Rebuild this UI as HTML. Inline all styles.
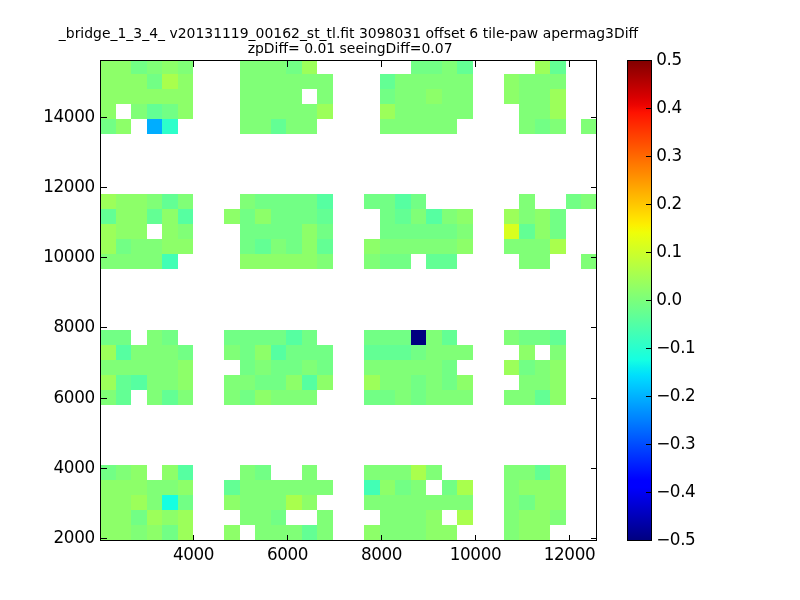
<!DOCTYPE html>
<html><head><meta charset="utf-8"><title>tile-paw apermag3Diff</title>
<style>
html,body{margin:0;padding:0;background:#fff;}
body{width:800px;height:600px;position:relative;overflow:hidden;font-family:"DejaVu Sans","Liberation Sans",sans-serif;color:#000;}
svg{position:absolute;left:0;top:0;}
.t{position:absolute;white-space:nowrap;line-height:1;}
.title{font-size:13.94px;left:0;width:697px;text-align:center;}
.yl{font-size:16.8px;right:705.3px;text-align:right;letter-spacing:-0.4px;}
.xl{font-size:16.8px;width:100px;text-align:center;letter-spacing:-0.4px;}
.cl{font-size:16.8px;left:656.2px;letter-spacing:-0.4px;}
</style></head><body>
<svg width="800" height="600" viewBox="0 0 800 600">
<defs><linearGradient id="jet" x1="0" y1="0" x2="0" y2="1">
<stop offset="0.0000" stop-color="#800000"/><stop offset="0.0156" stop-color="#920000"/><stop offset="0.0312" stop-color="#a40000"/><stop offset="0.0469" stop-color="#b60000"/><stop offset="0.0625" stop-color="#c80000"/><stop offset="0.0781" stop-color="#da0000"/><stop offset="0.0938" stop-color="#ec0400"/><stop offset="0.1094" stop-color="#fe1200"/><stop offset="0.1250" stop-color="#ff2100"/><stop offset="0.1406" stop-color="#ff3000"/><stop offset="0.1562" stop-color="#ff3f00"/><stop offset="0.1719" stop-color="#ff4d00"/><stop offset="0.1875" stop-color="#ff5c00"/><stop offset="0.2031" stop-color="#ff6b00"/><stop offset="0.2188" stop-color="#ff7a00"/><stop offset="0.2344" stop-color="#ff8800"/><stop offset="0.2500" stop-color="#ff9700"/><stop offset="0.2656" stop-color="#ffa600"/><stop offset="0.2812" stop-color="#ffb500"/><stop offset="0.2969" stop-color="#ffc300"/><stop offset="0.3125" stop-color="#ffd200"/><stop offset="0.3281" stop-color="#ffe100"/><stop offset="0.3438" stop-color="#fcf000"/><stop offset="0.3594" stop-color="#effe08"/><stop offset="0.3750" stop-color="#e2ff15"/><stop offset="0.3906" stop-color="#d5ff21"/><stop offset="0.4062" stop-color="#c9ff2e"/><stop offset="0.4219" stop-color="#bcff3b"/><stop offset="0.4375" stop-color="#afff48"/><stop offset="0.4531" stop-color="#a2ff55"/><stop offset="0.4688" stop-color="#95ff62"/><stop offset="0.4844" stop-color="#88ff6f"/><stop offset="0.5000" stop-color="#7bff7b"/><stop offset="0.5156" stop-color="#6fff88"/><stop offset="0.5312" stop-color="#62ff95"/><stop offset="0.5469" stop-color="#55ffa2"/><stop offset="0.5625" stop-color="#48ffaf"/><stop offset="0.5781" stop-color="#3bffbc"/><stop offset="0.5938" stop-color="#2effc9"/><stop offset="0.6094" stop-color="#21ffd5"/><stop offset="0.6250" stop-color="#15ffe2"/><stop offset="0.6406" stop-color="#08efef"/><stop offset="0.6562" stop-color="#00dffc"/><stop offset="0.6719" stop-color="#00cfff"/><stop offset="0.6875" stop-color="#00bfff"/><stop offset="0.7031" stop-color="#00afff"/><stop offset="0.7188" stop-color="#009fff"/><stop offset="0.7344" stop-color="#008fff"/><stop offset="0.7500" stop-color="#0080ff"/><stop offset="0.7656" stop-color="#0070ff"/><stop offset="0.7812" stop-color="#0060ff"/><stop offset="0.7969" stop-color="#0050ff"/><stop offset="0.8125" stop-color="#0040ff"/><stop offset="0.8281" stop-color="#0030ff"/><stop offset="0.8438" stop-color="#0020ff"/><stop offset="0.8594" stop-color="#0010ff"/><stop offset="0.8750" stop-color="#0000ff"/><stop offset="0.8906" stop-color="#0000fe"/><stop offset="0.9062" stop-color="#0000ec"/><stop offset="0.9219" stop-color="#0000da"/><stop offset="0.9375" stop-color="#0000c8"/><stop offset="0.9531" stop-color="#0000b6"/><stop offset="0.9688" stop-color="#0000a4"/><stop offset="0.9844" stop-color="#000092"/><stop offset="1.0000" stop-color="#000080"/>
</linearGradient></defs>
<g shape-rendering="crispEdges">
<rect x="101" y="61" width="30" height="13" fill="#8dff69"/>
<rect x="131" y="61" width="16" height="13" fill="#72ff85"/>
<rect x="147" y="61" width="15" height="13" fill="#80ff77"/>
<rect x="162" y="61" width="16" height="13" fill="#8dff69"/>
<rect x="178" y="61" width="15" height="13" fill="#80ff77"/>
<rect x="240" y="61" width="46" height="13" fill="#80ff77"/>
<rect x="286" y="61" width="16" height="13" fill="#72ff85"/>
<rect x="302" y="61" width="15" height="13" fill="#9cff5a"/>
<rect x="411" y="61" width="31" height="13" fill="#72ff85"/>
<rect x="442" y="61" width="15" height="13" fill="#80ff77"/>
<rect x="457" y="61" width="16" height="13" fill="#63ff94"/>
<rect x="535" y="61" width="15" height="13" fill="#9cff5a"/>
<rect x="550" y="61" width="16" height="13" fill="#63ff94"/>
<rect x="101" y="74" width="46" height="15" fill="#8dff69"/>
<rect x="147" y="74" width="15" height="15" fill="#72ff85"/>
<rect x="162" y="74" width="16" height="15" fill="#a9ff4d"/>
<rect x="178" y="74" width="15" height="15" fill="#8dff69"/>
<rect x="240" y="74" width="93" height="15" fill="#80ff77"/>
<rect x="380" y="74" width="15" height="15" fill="#63ff94"/>
<rect x="395" y="74" width="78" height="15" fill="#80ff77"/>
<rect x="504" y="74" width="15" height="15" fill="#8dff69"/>
<rect x="519" y="74" width="47" height="15" fill="#80ff77"/>
<rect x="101" y="89" width="92" height="15" fill="#8dff69"/>
<rect x="240" y="89" width="62" height="15" fill="#80ff77"/>
<rect x="317" y="89" width="16" height="15" fill="#80ff77"/>
<rect x="380" y="89" width="15" height="15" fill="#72ff85"/>
<rect x="395" y="89" width="31" height="15" fill="#80ff77"/>
<rect x="426" y="89" width="16" height="15" fill="#8dff69"/>
<rect x="442" y="89" width="31" height="15" fill="#80ff77"/>
<rect x="504" y="89" width="15" height="15" fill="#8dff69"/>
<rect x="519" y="89" width="31" height="15" fill="#80ff77"/>
<rect x="550" y="89" width="16" height="15" fill="#9cff5a"/>
<rect x="101" y="104" width="15" height="15" fill="#8dff69"/>
<rect x="131" y="104" width="16" height="15" fill="#80ff77"/>
<rect x="147" y="104" width="15" height="15" fill="#63ff94"/>
<rect x="162" y="104" width="16" height="15" fill="#72ff85"/>
<rect x="178" y="104" width="15" height="15" fill="#8dff69"/>
<rect x="240" y="104" width="77" height="15" fill="#80ff77"/>
<rect x="317" y="104" width="16" height="15" fill="#9cff5a"/>
<rect x="380" y="104" width="15" height="15" fill="#9cff5a"/>
<rect x="395" y="104" width="78" height="15" fill="#80ff77"/>
<rect x="519" y="104" width="31" height="15" fill="#80ff77"/>
<rect x="550" y="104" width="16" height="15" fill="#9cff5a"/>
<rect x="101" y="119" width="15" height="15" fill="#72ff85"/>
<rect x="116" y="119" width="15" height="15" fill="#8dff69"/>
<rect x="147" y="119" width="15" height="15" fill="#00adff"/>
<rect x="162" y="119" width="16" height="15" fill="#2dffca"/>
<rect x="240" y="119" width="31" height="15" fill="#80ff77"/>
<rect x="271" y="119" width="15" height="15" fill="#63ff94"/>
<rect x="286" y="119" width="31" height="15" fill="#80ff77"/>
<rect x="380" y="119" width="77" height="15" fill="#80ff77"/>
<rect x="519" y="119" width="16" height="15" fill="#80ff77"/>
<rect x="535" y="119" width="15" height="15" fill="#72ff85"/>
<rect x="550" y="119" width="16" height="15" fill="#80ff77"/>
<rect x="581" y="119" width="15" height="15" fill="#80ff77"/>
<rect x="101" y="194" width="15" height="15" fill="#9cff5a"/>
<rect x="116" y="194" width="31" height="15" fill="#8dff69"/>
<rect x="147" y="194" width="15" height="15" fill="#80ff77"/>
<rect x="162" y="194" width="16" height="15" fill="#63ff94"/>
<rect x="178" y="194" width="15" height="15" fill="#80ff77"/>
<rect x="240" y="194" width="15" height="15" fill="#80ff77"/>
<rect x="255" y="194" width="62" height="15" fill="#72ff85"/>
<rect x="317" y="194" width="16" height="15" fill="#56ffa1"/>
<rect x="364" y="194" width="31" height="15" fill="#72ff85"/>
<rect x="395" y="194" width="16" height="15" fill="#56ffa1"/>
<rect x="411" y="194" width="15" height="15" fill="#72ff85"/>
<rect x="519" y="194" width="16" height="15" fill="#80ff77"/>
<rect x="566" y="194" width="15" height="15" fill="#72ff85"/>
<rect x="581" y="194" width="15" height="15" fill="#80ff77"/>
<rect x="101" y="209" width="15" height="15" fill="#63ff94"/>
<rect x="116" y="209" width="31" height="15" fill="#8dff69"/>
<rect x="147" y="209" width="15" height="15" fill="#63ff94"/>
<rect x="162" y="209" width="16" height="15" fill="#8dff69"/>
<rect x="178" y="209" width="15" height="15" fill="#56ffa1"/>
<rect x="224" y="209" width="16" height="15" fill="#8dff69"/>
<rect x="240" y="209" width="15" height="15" fill="#72ff85"/>
<rect x="255" y="209" width="16" height="15" fill="#8dff69"/>
<rect x="271" y="209" width="46" height="15" fill="#72ff85"/>
<rect x="317" y="209" width="16" height="15" fill="#63ff94"/>
<rect x="380" y="209" width="15" height="15" fill="#72ff85"/>
<rect x="395" y="209" width="16" height="15" fill="#63ff94"/>
<rect x="411" y="209" width="15" height="15" fill="#80ff77"/>
<rect x="426" y="209" width="16" height="15" fill="#56ffa1"/>
<rect x="442" y="209" width="15" height="15" fill="#80ff77"/>
<rect x="457" y="209" width="16" height="15" fill="#8dff69"/>
<rect x="504" y="209" width="15" height="15" fill="#9cff5a"/>
<rect x="519" y="209" width="16" height="15" fill="#80ff77"/>
<rect x="535" y="209" width="15" height="15" fill="#8dff69"/>
<rect x="550" y="209" width="16" height="15" fill="#72ff85"/>
<rect x="101" y="224" width="15" height="15" fill="#9cff5a"/>
<rect x="116" y="224" width="31" height="15" fill="#8dff69"/>
<rect x="162" y="224" width="16" height="15" fill="#8dff69"/>
<rect x="178" y="224" width="15" height="15" fill="#80ff77"/>
<rect x="240" y="224" width="62" height="15" fill="#72ff85"/>
<rect x="302" y="224" width="15" height="15" fill="#8dff69"/>
<rect x="317" y="224" width="16" height="15" fill="#72ff85"/>
<rect x="380" y="224" width="77" height="15" fill="#72ff85"/>
<rect x="457" y="224" width="16" height="15" fill="#80ff77"/>
<rect x="504" y="224" width="15" height="15" fill="#d8ff1f"/>
<rect x="519" y="224" width="16" height="15" fill="#63ff94"/>
<rect x="535" y="224" width="15" height="15" fill="#8dff69"/>
<rect x="550" y="224" width="16" height="15" fill="#72ff85"/>
<rect x="101" y="239" width="15" height="15" fill="#9cff5a"/>
<rect x="116" y="239" width="15" height="15" fill="#72ff85"/>
<rect x="131" y="239" width="31" height="15" fill="#80ff77"/>
<rect x="162" y="239" width="31" height="15" fill="#8dff69"/>
<rect x="240" y="239" width="15" height="15" fill="#72ff85"/>
<rect x="255" y="239" width="16" height="15" fill="#63ff94"/>
<rect x="271" y="239" width="15" height="15" fill="#80ff77"/>
<rect x="286" y="239" width="16" height="15" fill="#72ff85"/>
<rect x="302" y="239" width="15" height="15" fill="#8dff69"/>
<rect x="317" y="239" width="16" height="15" fill="#63ff94"/>
<rect x="364" y="239" width="16" height="15" fill="#8dff69"/>
<rect x="380" y="239" width="77" height="15" fill="#80ff77"/>
<rect x="457" y="239" width="16" height="15" fill="#8dff69"/>
<rect x="504" y="239" width="46" height="15" fill="#80ff77"/>
<rect x="550" y="239" width="16" height="15" fill="#a9ff4d"/>
<rect x="101" y="254" width="61" height="15" fill="#80ff77"/>
<rect x="162" y="254" width="16" height="15" fill="#42ffb5"/>
<rect x="240" y="254" width="77" height="15" fill="#8dff69"/>
<rect x="317" y="254" width="16" height="15" fill="#80ff77"/>
<rect x="364" y="254" width="16" height="15" fill="#80ff77"/>
<rect x="380" y="254" width="31" height="15" fill="#72ff85"/>
<rect x="426" y="254" width="31" height="15" fill="#63ff94"/>
<rect x="519" y="254" width="31" height="15" fill="#80ff77"/>
<rect x="581" y="254" width="15" height="15" fill="#80ff77"/>
<rect x="101" y="330" width="30" height="15" fill="#72ff85"/>
<rect x="147" y="330" width="15" height="15" fill="#80ff77"/>
<rect x="162" y="330" width="16" height="15" fill="#72ff85"/>
<rect x="224" y="330" width="62" height="15" fill="#72ff85"/>
<rect x="286" y="330" width="16" height="15" fill="#56ffa1"/>
<rect x="302" y="330" width="15" height="15" fill="#72ff85"/>
<rect x="364" y="330" width="47" height="15" fill="#72ff85"/>
<rect x="411" y="330" width="15" height="15" fill="#000080"/>
<rect x="426" y="330" width="16" height="15" fill="#80ff77"/>
<rect x="442" y="330" width="15" height="15" fill="#63ff94"/>
<rect x="504" y="330" width="15" height="15" fill="#80ff77"/>
<rect x="519" y="330" width="31" height="15" fill="#72ff85"/>
<rect x="550" y="330" width="16" height="15" fill="#63ff94"/>
<rect x="101" y="345" width="15" height="15" fill="#9cff5a"/>
<rect x="116" y="345" width="15" height="15" fill="#56ffa1"/>
<rect x="131" y="345" width="47" height="15" fill="#80ff77"/>
<rect x="178" y="345" width="15" height="15" fill="#72ff85"/>
<rect x="224" y="345" width="16" height="15" fill="#80ff77"/>
<rect x="240" y="345" width="15" height="15" fill="#72ff85"/>
<rect x="255" y="345" width="16" height="15" fill="#8dff69"/>
<rect x="271" y="345" width="15" height="15" fill="#56ffa1"/>
<rect x="286" y="345" width="47" height="15" fill="#72ff85"/>
<rect x="364" y="345" width="47" height="15" fill="#63ff94"/>
<rect x="411" y="345" width="15" height="15" fill="#72ff85"/>
<rect x="426" y="345" width="47" height="15" fill="#80ff77"/>
<rect x="519" y="345" width="16" height="15" fill="#8dff69"/>
<rect x="550" y="345" width="16" height="15" fill="#80ff77"/>
<rect x="101" y="360" width="77" height="15" fill="#80ff77"/>
<rect x="178" y="360" width="15" height="15" fill="#8dff69"/>
<rect x="240" y="360" width="15" height="15" fill="#72ff85"/>
<rect x="255" y="360" width="16" height="15" fill="#80ff77"/>
<rect x="271" y="360" width="31" height="15" fill="#72ff85"/>
<rect x="302" y="360" width="15" height="15" fill="#80ff77"/>
<rect x="317" y="360" width="16" height="15" fill="#72ff85"/>
<rect x="364" y="360" width="78" height="15" fill="#80ff77"/>
<rect x="442" y="360" width="15" height="15" fill="#72ff85"/>
<rect x="504" y="360" width="15" height="15" fill="#9cff5a"/>
<rect x="519" y="360" width="16" height="15" fill="#72ff85"/>
<rect x="535" y="360" width="15" height="15" fill="#80ff77"/>
<rect x="550" y="360" width="16" height="15" fill="#8dff69"/>
<rect x="101" y="375" width="15" height="15" fill="#9cff5a"/>
<rect x="116" y="375" width="15" height="15" fill="#63ff94"/>
<rect x="131" y="375" width="16" height="15" fill="#56ffa1"/>
<rect x="147" y="375" width="31" height="15" fill="#80ff77"/>
<rect x="178" y="375" width="15" height="15" fill="#8dff69"/>
<rect x="224" y="375" width="31" height="15" fill="#80ff77"/>
<rect x="255" y="375" width="31" height="15" fill="#72ff85"/>
<rect x="286" y="375" width="16" height="15" fill="#8dff69"/>
<rect x="302" y="375" width="15" height="15" fill="#56ffa1"/>
<rect x="317" y="375" width="16" height="15" fill="#8dff69"/>
<rect x="364" y="375" width="16" height="15" fill="#9cff5a"/>
<rect x="380" y="375" width="31" height="15" fill="#80ff77"/>
<rect x="411" y="375" width="15" height="15" fill="#72ff85"/>
<rect x="426" y="375" width="16" height="15" fill="#80ff77"/>
<rect x="442" y="375" width="15" height="15" fill="#72ff85"/>
<rect x="457" y="375" width="16" height="15" fill="#8dff69"/>
<rect x="519" y="375" width="31" height="15" fill="#80ff77"/>
<rect x="550" y="375" width="16" height="15" fill="#8dff69"/>
<rect x="101" y="390" width="15" height="15" fill="#80ff77"/>
<rect x="116" y="390" width="15" height="15" fill="#63ff94"/>
<rect x="147" y="390" width="15" height="15" fill="#80ff77"/>
<rect x="162" y="390" width="16" height="15" fill="#63ff94"/>
<rect x="178" y="390" width="15" height="15" fill="#80ff77"/>
<rect x="224" y="390" width="16" height="15" fill="#80ff77"/>
<rect x="240" y="390" width="15" height="15" fill="#72ff85"/>
<rect x="255" y="390" width="16" height="15" fill="#8dff69"/>
<rect x="271" y="390" width="46" height="15" fill="#80ff77"/>
<rect x="364" y="390" width="31" height="15" fill="#72ff85"/>
<rect x="395" y="390" width="16" height="15" fill="#80ff77"/>
<rect x="411" y="390" width="15" height="15" fill="#72ff85"/>
<rect x="426" y="390" width="47" height="15" fill="#80ff77"/>
<rect x="504" y="390" width="31" height="15" fill="#80ff77"/>
<rect x="535" y="390" width="15" height="15" fill="#63ff94"/>
<rect x="550" y="390" width="16" height="15" fill="#8dff69"/>
<rect x="101" y="465" width="15" height="15" fill="#72ff85"/>
<rect x="116" y="465" width="15" height="15" fill="#80ff77"/>
<rect x="131" y="465" width="16" height="15" fill="#8dff69"/>
<rect x="162" y="465" width="16" height="15" fill="#8dff69"/>
<rect x="178" y="465" width="15" height="15" fill="#56ffa1"/>
<rect x="240" y="465" width="15" height="15" fill="#80ff77"/>
<rect x="255" y="465" width="16" height="15" fill="#72ff85"/>
<rect x="302" y="465" width="15" height="15" fill="#80ff77"/>
<rect x="364" y="465" width="47" height="15" fill="#80ff77"/>
<rect x="411" y="465" width="15" height="15" fill="#a9ff4d"/>
<rect x="426" y="465" width="16" height="15" fill="#80ff77"/>
<rect x="504" y="465" width="31" height="15" fill="#80ff77"/>
<rect x="535" y="465" width="15" height="15" fill="#63ff94"/>
<rect x="550" y="465" width="16" height="15" fill="#8dff69"/>
<rect x="101" y="480" width="46" height="15" fill="#8dff69"/>
<rect x="147" y="480" width="31" height="15" fill="#80ff77"/>
<rect x="178" y="480" width="15" height="15" fill="#8dff69"/>
<rect x="224" y="480" width="16" height="15" fill="#63ff94"/>
<rect x="240" y="480" width="93" height="15" fill="#80ff77"/>
<rect x="364" y="480" width="16" height="15" fill="#42ffb5"/>
<rect x="380" y="480" width="15" height="15" fill="#8dff69"/>
<rect x="395" y="480" width="16" height="15" fill="#72ff85"/>
<rect x="411" y="480" width="15" height="15" fill="#80ff77"/>
<rect x="442" y="480" width="15" height="15" fill="#72ff85"/>
<rect x="457" y="480" width="16" height="15" fill="#a9ff4d"/>
<rect x="504" y="480" width="15" height="15" fill="#80ff77"/>
<rect x="519" y="480" width="47" height="15" fill="#8dff69"/>
<rect x="101" y="495" width="30" height="15" fill="#8dff69"/>
<rect x="131" y="495" width="16" height="15" fill="#9cff5a"/>
<rect x="147" y="495" width="15" height="15" fill="#80ff77"/>
<rect x="162" y="495" width="16" height="15" fill="#15ffe2"/>
<rect x="178" y="495" width="15" height="15" fill="#72ff85"/>
<rect x="224" y="495" width="16" height="15" fill="#8dff69"/>
<rect x="240" y="495" width="46" height="15" fill="#80ff77"/>
<rect x="286" y="495" width="16" height="15" fill="#a9ff4d"/>
<rect x="302" y="495" width="15" height="15" fill="#8dff69"/>
<rect x="364" y="495" width="109" height="15" fill="#80ff77"/>
<rect x="504" y="495" width="15" height="15" fill="#80ff77"/>
<rect x="519" y="495" width="16" height="15" fill="#72ff85"/>
<rect x="535" y="495" width="31" height="15" fill="#8dff69"/>
<rect x="101" y="510" width="30" height="15" fill="#8dff69"/>
<rect x="131" y="510" width="16" height="15" fill="#72ff85"/>
<rect x="147" y="510" width="15" height="15" fill="#9cff5a"/>
<rect x="162" y="510" width="16" height="15" fill="#8dff69"/>
<rect x="178" y="510" width="15" height="15" fill="#9cff5a"/>
<rect x="240" y="510" width="31" height="15" fill="#80ff77"/>
<rect x="271" y="510" width="15" height="15" fill="#72ff85"/>
<rect x="317" y="510" width="16" height="15" fill="#80ff77"/>
<rect x="380" y="510" width="46" height="15" fill="#80ff77"/>
<rect x="426" y="510" width="16" height="15" fill="#8dff69"/>
<rect x="457" y="510" width="16" height="15" fill="#a9ff4d"/>
<rect x="504" y="510" width="15" height="15" fill="#80ff77"/>
<rect x="519" y="510" width="31" height="15" fill="#8dff69"/>
<rect x="550" y="510" width="16" height="15" fill="#80ff77"/>
<rect x="101" y="525" width="30" height="15" fill="#8dff69"/>
<rect x="131" y="525" width="16" height="15" fill="#80ff77"/>
<rect x="147" y="525" width="15" height="15" fill="#8dff69"/>
<rect x="162" y="525" width="16" height="15" fill="#72ff85"/>
<rect x="178" y="525" width="15" height="15" fill="#9cff5a"/>
<rect x="224" y="525" width="16" height="15" fill="#8dff69"/>
<rect x="255" y="525" width="47" height="15" fill="#80ff77"/>
<rect x="302" y="525" width="15" height="15" fill="#63ff94"/>
<rect x="317" y="525" width="16" height="15" fill="#80ff77"/>
<rect x="364" y="525" width="16" height="15" fill="#8dff69"/>
<rect x="380" y="525" width="46" height="15" fill="#80ff77"/>
<rect x="426" y="525" width="31" height="15" fill="#8dff69"/>
<rect x="504" y="525" width="15" height="15" fill="#80ff77"/>
<rect x="519" y="525" width="31" height="15" fill="#8dff69"/>
</g>
<rect x="627" y="60" width="24" height="480" fill="url(#jet)"/>
<g fill="#000" shape-rendering="crispEdges">
<rect x="193" y="534.5" width="1" height="5.5"/>
<rect x="193" y="61" width="1" height="5.5"/>
<rect x="287" y="534.5" width="1" height="5.5"/>
<rect x="287" y="61" width="1" height="5.5"/>
<rect x="381" y="534.5" width="1" height="5.5"/>
<rect x="381" y="61" width="1" height="5.5"/>
<rect x="475" y="534.5" width="1" height="5.5"/>
<rect x="475" y="61" width="1" height="5.5"/>
<rect x="569" y="534.5" width="1" height="5.5"/>
<rect x="569" y="61" width="1" height="5.5"/>
<rect x="101" y="538" width="5.5" height="1"/>
<rect x="590.5" y="538" width="5.5" height="1"/>
<rect x="101" y="468" width="5.5" height="1"/>
<rect x="590.5" y="468" width="5.5" height="1"/>
<rect x="101" y="398" width="5.5" height="1"/>
<rect x="590.5" y="398" width="5.5" height="1"/>
<rect x="101" y="327" width="5.5" height="1"/>
<rect x="590.5" y="327" width="5.5" height="1"/>
<rect x="101" y="257" width="5.5" height="1"/>
<rect x="590.5" y="257" width="5.5" height="1"/>
<rect x="101" y="187" width="5.5" height="1"/>
<rect x="590.5" y="187" width="5.5" height="1"/>
<rect x="101" y="117" width="5.5" height="1"/>
<rect x="590.5" y="117" width="5.5" height="1"/>
<rect x="646" y="108" width="5.5" height="1"/>
<rect x="646" y="156" width="5.5" height="1"/>
<rect x="646" y="204" width="5.5" height="1"/>
<rect x="646" y="252" width="5.5" height="1"/>
<rect x="646" y="300" width="5.5" height="1"/>
<rect x="646" y="348" width="5.5" height="1"/>
<rect x="646" y="396" width="5.5" height="1"/>
<rect x="646" y="444" width="5.5" height="1"/>
<rect x="646" y="492" width="5.5" height="1"/>
</g>
<g fill="none" stroke="#000" stroke-width="1" shape-rendering="crispEdges"><rect x="100.5" y="60.5" width="496" height="480"/><rect x="627.5" y="60.5" width="24" height="480"/></g>
</svg>
<div class="t title" style="top:26.8px">_bridge_1_3_4_ v20131119_00162_st_tl.fit 3098031 offset 6 tile-paw apermag3Diff</div>
<div class="t title" style="top:41.9px;left:1.6px">zpDiff= 0.01 seeingDiff=0.07</div>
<div class="t yl" style="top:528.8px">2000</div>
<div class="t yl" style="top:458.8px">4000</div>
<div class="t yl" style="top:388.8px">6000</div>
<div class="t yl" style="top:317.8px">8000</div>
<div class="t yl" style="top:247.8px">10000</div>
<div class="t yl" style="top:177.8px">12000</div>
<div class="t yl" style="top:107.8px">14000</div>
<div class="t xl" style="left:143.5px;top:546.1px">4000</div>
<div class="t xl" style="left:237.5px;top:546.1px">6000</div>
<div class="t xl" style="left:331.5px;top:546.1px">8000</div>
<div class="t xl" style="left:425.5px;top:546.1px">10000</div>
<div class="t xl" style="left:519.5px;top:546.1px">12000</div>
<div class="t cl" style="top:50.9px">0.5</div>
<div class="t cl" style="top:98.9px">0.4</div>
<div class="t cl" style="top:146.9px">0.3</div>
<div class="t cl" style="top:194.9px">0.2</div>
<div class="t cl" style="top:242.9px">0.1</div>
<div class="t cl" style="top:290.9px">0.0</div>
<div class="t cl" style="top:338.9px">−0.1</div>
<div class="t cl" style="top:386.9px">−0.2</div>
<div class="t cl" style="top:434.9px">−0.3</div>
<div class="t cl" style="top:482.9px">−0.4</div>
<div class="t cl" style="top:530.9px">−0.5</div>
</body></html>
